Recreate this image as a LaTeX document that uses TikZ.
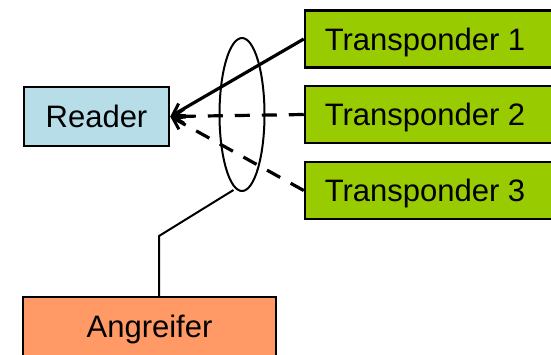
\documentclass[tikz,border=0pt]{standalone}
\usepackage{fontspec}
\setmainfont{Liberation Sans}
\usetikzlibrary{arrows.meta,shapes.geometric}
\definecolor{readerblue}{HTML}{B7DEE8}
\definecolor{taggreen}{HTML}{99CC00}
\definecolor{attackorange}{HTML}{FF9966}
\begin{document}
\begin{tikzpicture}[x=1pt,y=-1pt,
  box/.style={draw=black, line width=2.5pt, rectangle, inner sep=0pt,
    font=\fontsize{31}{36}\selectfont, text=black, text height=22pt, text depth=0pt},
  readerbox/.style={box, fill=readerblue, minimum width=145pt, minimum height=59pt},
  tagbox/.style={box, fill=taggreen, minimum width=248pt, minimum height=57pt},
  attackbox/.style={box, fill=attackorange, minimum width=253pt, minimum height=59pt},
  signal/.style={line width=3.2pt, -{Straight Barb[length=11pt,width=14pt,line width=3pt]}},
  dashsignal/.style={signal, dash pattern=on 15pt off 12pt},
  tap/.style={draw=black, line width=2pt}]
  \useasboundingbox (0,0) rectangle (551,354);

  \node[readerbox] (reader) at (96.5,116.5) {Reader};
  \node[tagbox] (t1) at (429,39) {\hspace*{-8pt}Transponder 1};
  \node[tagbox] (t2) at (429,114.5) {\hspace*{-8pt}Transponder 2};
  \node[tagbox] (t3) at (429,190.5) {\hspace*{-8pt}Transponder 3};
  \node[attackbox] (att) at (149.5,326.5) {Angreifer};

  % eavesdropping zone around the radio links
  \node[ellipse, tap, minimum width=45pt, minimum height=153pt, inner sep=0pt] (zone) at (242,114.5) {};

  % radio links to the reader
  \draw[signal] (t1.west) -- (reader.east);
  \draw[dashsignal] (t2.west) -- (reader.east);
  \draw[dashsignal] (t3.west) -- (reader.east);

  % attacker's antenna lead
  \coordinate (tapend) at (233.5,190);
  \coordinate (bend) at (159,236);
  \draw[tap] (att.north -| bend) -- (bend) -- (tapend);
\end{tikzpicture}
\end{document}
